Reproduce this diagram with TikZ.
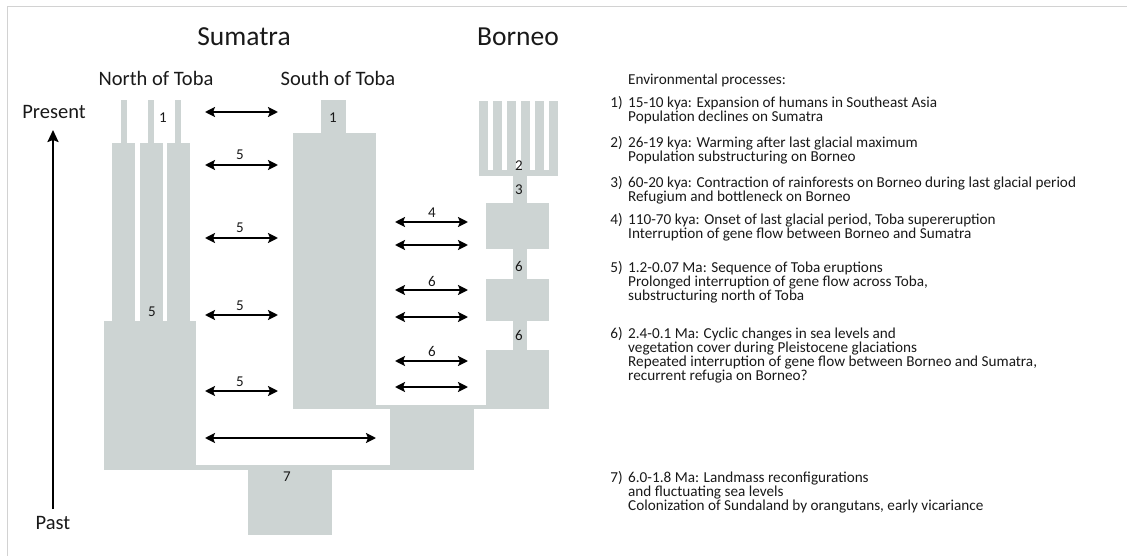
\documentclass[tikz,border=0pt]{standalone}
\usepackage{fontspec}
\setmainfont{Carlito}
\usetikzlibrary{arrows.meta}
\definecolor{grayfill}{RGB}{205,212,211}
\definecolor{framecol}{RGB}{210,210,210}
\definecolor{txt}{RGB}{25,25,25}
\tikzset{
  region/.style={fill=grayfill,draw=none},
  flow/.style={line width=2.8pt,{Stealth[length=10pt,width=10pt,inset=2pt]}-{Stealth[length=10pt,width=10pt,inset=2pt]},black},
  title/.style={font=\fontsize{27.5}{30}\selectfont,text=txt,inner sep=0pt},
  sub/.style={font=\fontsize{20.5}{23}\selectfont,text=txt,inner sep=0pt},
  num/.style={font=\fontsize{15}{16}\selectfont,text=txt,inner sep=0pt},
  env/.style={font=\fontsize{15.2}{14}\selectfont,text=txt,inner sep=0pt,anchor=base west},
  envn/.style={font=\fontsize{15.2}{14}\selectfont,text=txt,inner sep=0pt,anchor=base east},
}
\begin{document}
\begin{tikzpicture}[x=1pt,y=-1pt]
\useasboundingbox (0,0) rectangle (1127,556);
% frame
\draw[framecol,line width=1pt] (7.5,556) -- (7.5,6.5) -- (1127,6.5);
% titles
\node[title] (sum) at (244,37) {Sumatra};
\node[title] (bor) at (518,37) {Borneo};
\node[sub] (not) at (156,78) {North of Toba};
\node[sub] (sot) at (338,78) {South of Toba};
\node[sub] (pres) at (54,112) {Present};
\node[sub] (past) at (53,523) {Past};
% time axis
\coordinate (tb) at (53,509);
\coordinate (tt) at (53,130);
\draw[line width=2.2pt,-{Stealth[length=12pt,width=11pt,inset=2pt]}] (tb) -- (tt);
% North of Toba
\fill[region] (121,100) rectangle (127,143);
\fill[region] (148,100) rectangle (154,143);
\fill[region] (175,100) rectangle (181,143);
\fill[region] (112,143) rectangle (135,321);
\fill[region] (140,143) rectangle (163,321);
\fill[region] (167,143) rectangle (190,321);
\fill[region] (104,321) rectangle (196,470);
\fill[region] (196,465) rectangle (390,470);
% South of Toba
\fill[region] (321,100) rectangle (346,133);
\fill[region] (293,133) rectangle (376,409);
\fill[region] (376,405) rectangle (486,409);
\fill[region] (390,405) rectangle (474,470);
\fill[region] (248,470) rectangle (332,535);
% Borneo
\foreach \i in {0,...,5} {\fill[region] (479+14*\i,101) rectangle (488+14*\i,176);}
\fill[region] (479,170) rectangle (558,176);
\fill[region] (513,176) rectangle (527,203);
\fill[region] (486,203) rectangle (549,249);
\fill[region] (513,249) rectangle (527,279);
\fill[region] (486,279) rectangle (549,321);
\fill[region] (513,321) rectangle (527,350);
\fill[region] (486,350) rectangle (549,409);
% numbers in regions
\node[num] (n1a) at (163,118) {1};
\node[num] (n5a) at (152,312) {5};
\node[num] (n1b) at (333,118) {1};
\node[num] (n7) at (287,477) {7};
\node[num] (n2) at (519,166) {2};
\node[num] (n3) at (519,190) {3};
\node[num] (n6a) at (519,266) {6};
\node[num] (n6b) at (519,335) {6};
% Sumatra arrows
\foreach \y/\n in {112/a,165/b,238/c,315/d,391/e} {
  \coordinate (sl\n) at (205,\y);
  \coordinate (sr\n) at (278,\y);
  \draw[flow] (sl\n) -- (sr\n);
}
\node[num] (l5a) at (240,155) {5};
\node[num] (l5b) at (240,228) {5};
\node[num] (l5c) at (240,306) {5};
\node[num] (l5d) at (240,382) {5};
\coordinate (ll) at (205,438);
\coordinate (lr) at (376,438);
\draw[flow] (ll) -- (lr);
% Borneo arrows
\foreach \y/\n in {222/a,245/b,290/c,317/d,361/e,387/f} {
  \coordinate (bl\n) at (395,\y);
  \coordinate (br\n) at (468,\y);
  \draw[flow] (bl\n) -- (br\n);
}
\node[num] (l4) at (432,213) {4};
\node[num] (l6a) at (432,281) {6};
\node[num] (l6b) at (432,351) {6};
% environmental processes
\node[env] (eh) at (628,85) {Environmental processes:};
\node[envn] (e1n) at (623,108) {1)};
\node[env] (e1a) at (628,108) {15-10 kya: Expansion of humans in Southeast Asia};
\node[env] (e1b) at (628,122) {Population declines on Sumatra};
\node[envn] (e2n) at (623,148) {2)};
\node[env] (e2a) at (628,148) {26-19 kya: Warming after last glacial maximum};
\node[env] (e2b) at (628,162) {Population substructuring on Borneo};
\node[envn] (e3n) at (623,188) {3)};
\node[env] (e3a) at (628,188) {60-20 kya: Contraction of rainforests on Borneo during last glacial period};
\node[env] (e3b) at (628,202) {Refugium and bottleneck on Borneo};
\node[envn] (e4n) at (623,225) {4)};
\node[env] (e4a) at (628,225) {110-70 kya: Onset of last glacial period, Toba supereruption};
\node[env] (e4b) at (628,239) {Interruption of gene flow between Borneo and Sumatra};
\node[envn] (e5n) at (623,272) {5)};
\node[env] (e5a) at (628,272) {1.2-0.07 Ma: Sequence of Toba eruptions};
\node[env] (e5b) at (628,286) {Prolonged interruption of gene flow across Toba,};
\node[env] (e5c) at (628,300) {substructuring north of Toba};
\node[envn] (e6n) at (623,338) {6)};
\node[env] (e6a) at (628,338) {2.4-0.1 Ma: Cyclic changes in sea levels and};
\node[env] (e6b) at (628,352) {vegetation cover during Pleistocene glaciations};
\node[env] (e6c) at (628,366) {Repeated interruption of gene flow between Borneo and Sumatra,};
\node[env] (e6d) at (628,380) {recurrent refugia on Borneo?};
\node[envn] (e7n) at (623,482) {7)};
\node[env] (e7a) at (628,482) {6.0-1.8 Ma: Landmass reconfigurations};
\node[env] (e7b) at (628,496) {and fluctuating sea levels};
\node[env] (e7c) at (628,510) {Colonization of Sundaland by orangutans, early vicariance};
\end{tikzpicture}
\end{document}
